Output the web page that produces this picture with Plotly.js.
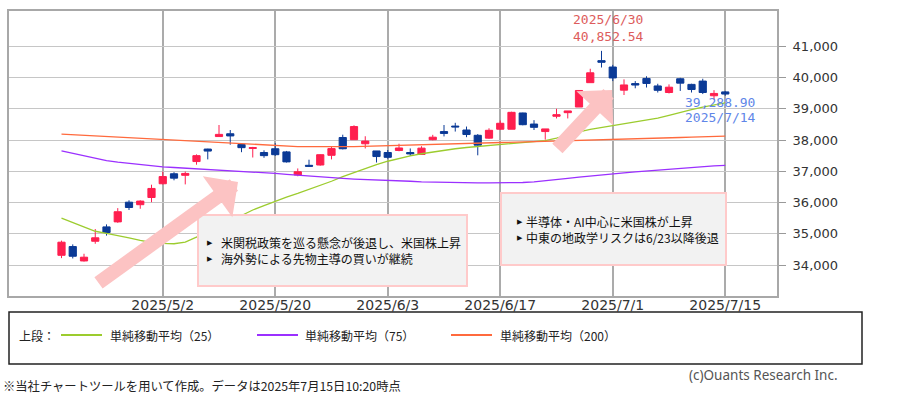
<!DOCTYPE html>
<html><head><meta charset="utf-8">
<script src="https://cdn.plot.ly/plotly-3.0.1.min.js"></script>
<style>html,body{margin:0;padding:0;background:#fff;}#chart{width:912px;height:395px;}</style>
</head><body><div id="chart"></div>
<script>
// ---- data ----
const dates = ['2025/4/18','2025/4/21','2025/4/22','2025/4/23','2025/4/24','2025/4/25','2025/4/28','2025/4/30',
 '2025/5/1','2025/5/2','2025/5/7','2025/5/8','2025/5/9','2025/5/12','2025/5/13','2025/5/14','2025/5/15','2025/5/16',
 '2025/5/19','2025/5/20','2025/5/21','2025/5/22','2025/5/23','2025/5/26','2025/5/27','2025/5/28','2025/5/29','2025/5/30',
 '2025/6/2','2025/6/3','2025/6/4','2025/6/5','2025/6/6','2025/6/9','2025/6/10','2025/6/11','2025/6/12','2025/6/13',
 '2025/6/16','2025/6/17','2025/6/18','2025/6/19','2025/6/20','2025/6/23','2025/6/24','2025/6/25','2025/6/26','2025/6/27',
 '2025/6/30','2025/7/1','2025/7/2','2025/7/3','2025/7/4','2025/7/7','2025/7/8','2025/7/9','2025/7/10','2025/7/11',
 '2025/7/14','2025/7/15'];
const openV  = [34310,34590,34130,34760,35220,35380,36010,35930,36160,36600,36920,36870,37310,37710,38110,38200,37855,37730,
 37600,37720,37620,36880,37190,37200,37510,38080,38010,37880,37650,37600,37665,37600,37540,38010,38270,38445,38320,38150,
 38060,38345,38345,38865,38510,38270,38760,38875,39055,39835,40540,40335,39595,39805,39970,39730,39520,39960,39780,39885,
 39415,39540];
const highV  = [34780,34660,34360,35150,35300,35820,36070,36070,36570,36990,36970,36990,37540,37720,38480,38320,37860,37780,
 37670,37900,37650,37090,37370,37540,37800,38170,38470,38120,37650,37680,37880,37730,37800,38165,38480,38550,38430,38190,
 38375,38625,38905,38875,38635,38355,39000,38930,39595,40280,40852.54,40405,39940,39885,40040,39800,39780,39990,39800,39960,
 39595,39570];
const lowV   = [34220,34210,34110,34680,34940,35350,35760,35800,36010,36580,36710,36580,37210,37380,38110,37850,37610,37440,
 37430,37490,37280,36840,37140,37180,37380,37700,38010,37730,37280,37400,37640,37490,37530,37990,38115,38270,38090,37510,
 38040,38320,38345,38470,38320,38010,38690,38690,39055,39835,40320,39885,39440,39655,39680,39520,39490,39570,39520,39470,
 39288.90,39415];
const closeV = [34730,34280,34250,34870,35040,35705,35840,36045,36450,36830,36780,36930,37500,37645,38180,38130,37755,37755,
 37500,37530,37300,36985,37160,37530,37725,37720,38430,37965,37470,37445,37745,37555,37740,38090,38210,38420,38175,37835,
 38310,38535,38885,38490,38405,38355,38810,38930,39585,40150,40487,39986,39762,39760,39810,39590,39690,39820,39615,39520,
 39490,39470];
const sma25  = [35500,35360,35220,35080,35010,34950,34870,34790,34720,34690,34680,34730,34880,35050,35230,35410,35600,35760,
 35900,36040,36170,36290,36420,36540,36680,36830,36960,37090,37210,37320,37410,37490,37560,37620,37670,37720,37760,37790,
 37820,37850,37880,37910,37940,37980,38060,38170,38260,38340,38400,38450,38500,38560,38620,38700,38790,38890,38970,39050,
 39120,39190];
const sma75  = [37650,37570,37490,37410,37340,37290,37250,37210,37170,37140,37120,37100,37080,37060,37040,37030,37010,36990,
 36960,36930,36900,36870,36850,36820,36790,36770,36750,36740,36730,36720,36700,36680,36660,36650,36640,36635,36630,36625,
 36625,36625,36630,36640,36660,36690,36730,36770,36810,36850,36890,36920,36950,36980,37010,37040,37070,37100,37120,37150,
 37170,37190];
const sma200 = [38190,38170,38150,38130,38110,38090,38070,38050,38030,38010,37990,37970,37950,37930,37910,37890,37870,37850,
 37830,37815,37800,37790,37785,37780,37780,37785,37790,37800,37810,37820,37830,37840,37845,37855,37865,37875,37885,37895,
 37905,37915,37930,37940,37950,37960,37965,37970,37980,37985,37990,38000,38010,38020,38035,38050,38065,38080,38095,38105,
 38115,38125];
const tickDates = ['2025/5/2','2025/5/20','2025/6/3','2025/6/17','2025/7/1','2025/7/15'];
const yTicks = [34000,35000,36000,37000,38000,39000,40000,41000];
const highMark = {date:'2025/6/30', value:40852.54};
const lowMark  = {date:'2025/7/14', value:39288.90};
const note1 = ['米関税政策を巡る懸念が後退し、米国株上昇','海外勢による先物主導の買いが継続'];
const note2 = ['半導体・AI中心に米国株が上昇','中東の地政学リスクは6/23以降後退'];
const legendPrefix = '上段：';
const legendNames = ['単純移動平均（25）','単純移動平均（75）','単純移動平均（200）'];
const credit = '(c)Ouants Research Inc.';
const footnote = '※当社チャートツールを用いて作成。データは2025年7月15日10:20時点';

// ---- geometry helpers (pixels -> paper) ----
const L=9, R=777, T=11, B=296;
const X0=61.5, DX=11.25;          // pixel of first candle, pixels per trading day
const PPU=31.25/1000;             // pixels per yen
const px = x => (x-L)/(R-L);
const py = y => (B-y)/(B-T);
const idx = dates.map((d,i)=>i);

const cGreen='#9ccc2e', cPurple='#9b30ff', cOrange='#ff6a3d';
const cUp='#ff1f4f', cDown='#0b3a96';
const jp = 'Noto Sans CJK JP, Noto Sans, sans-serif';

const traces = [
 {type:'scatter', mode:'lines', x:idx, y:sma25, line:{color:cGreen,width:1.3}, hoverinfo:'skip', showlegend:false},
 {type:'scatter', mode:'lines', x:idx, y:sma75, line:{color:cPurple,width:1.3}, hoverinfo:'skip', showlegend:false},
 {type:'scatter', mode:'lines', x:idx, y:sma200, line:{color:cOrange,width:1.3}, hoverinfo:'skip', showlegend:false},
 {type:'candlestick', x:idx, open:openV, high:highV, low:lowV, close:closeV,
  increasing:{line:{color:cUp,width:1}, fillcolor:cUp},
  decreasing:{line:{color:cDown,width:1}, fillcolor:cDown},
  whiskerwidth:0, hoverinfo:'skip', showlegend:false}
];

const fmt2 = v => v.toLocaleString('en-US',{minimumFractionDigits:2, maximumFractionDigits:2});

const shapes = [
 {type:'rect', xref:'paper', yref:'paper', x0:px(198), x1:px(467), y0:py(286), y1:py(215),
  fillcolor:'#f2f2f2', line:{color:'#ffcaca', width:2}, layer:'above'},
 {type:'rect', xref:'paper', yref:'paper', x0:px(501), x1:px(726), y0:py(265), y1:py(193),
  fillcolor:'#f2f2f2', line:{color:'#ffcaca', width:2}, layer:'above'},
 {type:'rect', xref:'paper', yref:'paper', x0:px(9), x1:px(862), y0:py(364), y1:py(312),
  fillcolor:'rgba(0,0,0,0)', line:{color:'#222', width:1.5}},
];
const legendCols = [cGreen, cPurple, cOrange];
const legendLineX = [61, 257, 451];
legendCols.forEach((c,k)=>{
  shapes.push({type:'line', xref:'paper', yref:'paper', x0:px(legendLineX[k]), x1:px(legendLineX[k]+41),
    y0:py(335), y1:py(335), line:{color:c, width:2}});
});

const annotations = [];
const iOf = d => dates.indexOf(d);
const vAt = yPix => 34000 + (265 - yPix)/PPU;
const iAt = xPix => (xPix - X0)/DX;
[[97,284,238,182],[556,150,612,90]].forEach(a=>{
  annotations.push({x:iAt(a[2]), y:vAt(a[3]), ax:iAt(a[0]), ay:vAt(a[1]), axref:'x', ayref:'y', xref:'x', yref:'y',
    text:'', showarrow:true, arrowhead:1, arrowsize:0.6, arrowwidth:14, arrowcolor:'#fcc3c3', standoff:0});
});
function lbl(text, x, y, color){
  annotations.push({xref:'paper', yref:'paper', x:px(x), y:py(y), xanchor:'left', yanchor:'middle', showarrow:false,
    text:text, font:{family:'DejaVu Sans Mono', size:13, color:color}});
}
lbl(highMark.date, 571, 20, '#dd5c5c');
lbl(fmt2(highMark.value), 571, 36, '#dd5c5c');
lbl(fmt2(lowMark.value), 683, 102, '#5f86e8');
lbl(lowMark.date, 683, 118, '#5f86e8');
// notes
function addNote(lines, bx, tx, y0, dy){
  lines.forEach((t,k)=>{
    annotations.push({xref:'paper', yref:'paper', x:px(bx), y:py(y0+k*dy), xanchor:'center', yanchor:'middle', showarrow:false,
      text:'▶', font:{family:'DejaVu Sans', size:7, color:'#111'}});
  });
  annotations.push({xref:'paper', yref:'paper', x:px(tx), y:py(y0+(lines.length-1)*dy/2), xanchor:'left', yanchor:'middle',
    showarrow:false, align:'left', text:lines.join('<br>'), font:{family:jp, size:12, color:'#111'}});
}
addNote(note1, 210, 219, 243, 15.6);
addNote(note2, 520, 524, 222, 15.6);
// legend texts
annotations.push({xref:'paper', yref:'paper', x:px(17), y:py(335), xanchor:'left', yanchor:'middle', showarrow:false,
  text:legendPrefix, font:{family:jp, size:12, color:'#222'}});
const legendTextX = [108, 303, 498];
legendNames.forEach((t,k)=>{
  annotations.push({xref:'paper', yref:'paper', x:px(legendTextX[k]), y:py(335), xanchor:'left', yanchor:'middle', showarrow:false,
    text:t, font:{family:jp, size:12, color:'#222'}});
});
annotations.push({xref:'paper', yref:'paper', x:px(840), y:py(375), xanchor:'right', yanchor:'middle', showarrow:false,
  text:credit, font:{family:'Noto Sans', size:13.5, color:'#555'}});
annotations.push({xref:'paper', yref:'paper', x:px(1), y:py(386), xanchor:'left', yanchor:'middle', showarrow:false,
  text:footnote, font:{family:jp, size:12.3, color:'#222'}});

const layout = {
  width:912, height:395,
  margin:{l:L, r:912-R, t:T, b:395-B, pad:0},
  paper_bgcolor:'#fff', plot_bgcolor:'#fff',
  showlegend:false, boxgap:0.2, boxgroupgap:0.2, hovermode:false,
  xaxis:{range:[iAt(L), iAt(R)], tickmode:'array', tickvals:tickDates.map(iOf), ticktext:tickDates,
    showgrid:true, gridcolor:'#ababab', gridwidth:2, zeroline:false, ticks:'', ticklabelstandoff:-5,
    showline:true, mirror:true, linecolor:'#a8a8a8', linewidth:2,
    rangeslider:{visible:false}, fixedrange:true,
    tickfont:{family:'DejaVu Sans', size:14, color:'#333'}},
  yaxis:{range:[vAt(B), vAt(T)], side:'right', tickmode:'array', tickvals:yTicks, tickformat:',d',
    showgrid:true, gridcolor:'#c6c6c6', gridwidth:1, zeroline:false,
    ticks:'outside', ticklen:7, tickcolor:'#999', tickwidth:1, ticklabelstandoff:4,
    showline:true, mirror:true, linecolor:'#a8a8a8', linewidth:2, fixedrange:true,
    tickfont:{family:'DejaVu Sans', size:13, color:'#333'}},
  shapes:shapes, annotations:annotations
};
Plotly.newPlot('chart', traces, layout, {staticPlot:true, displayModeBar:false});
</script></body></html>
